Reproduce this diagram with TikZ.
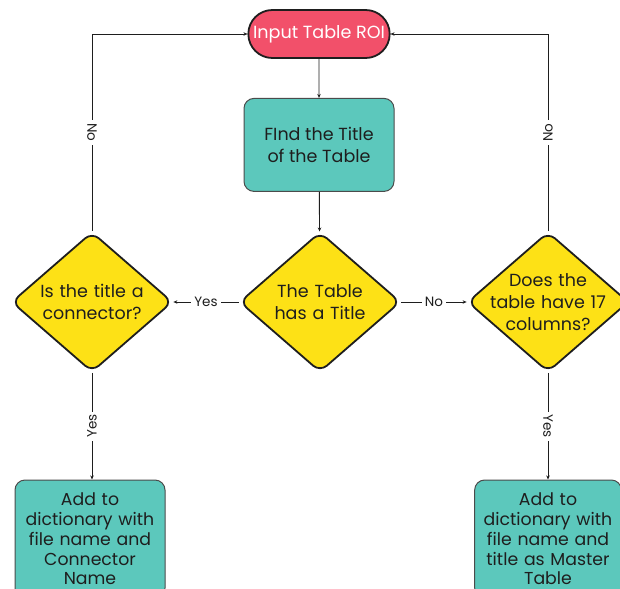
\documentclass[tikz,border=0pt]{standalone}
\usepackage{fontspec}
\setmainfont{Poppins}
\usetikzlibrary{arrows.meta,positioning,shapes.geometric,shapes.misc}
\definecolor{ink}{HTML}{1E1E1E}
\definecolor{roipink}{HTML}{F2506A}
\definecolor{tealbox}{HTML}{5CC8BC}
\definecolor{signal}{HTML}{FDE116}
\tikzset{
  startpill/.style={
    rounded rectangle,
    draw=ink,
    line width=1.8pt,
    fill=roipink,
    text=white,
    font=\fontsize{17.6}{21}\selectfont,
    minimum width=148pt,
    minimum height=48pt
  },
  stepbox/.style={
    draw=ink!80,
    rounded corners=10pt,
    line width=1pt,
    fill=tealbox,
    text=ink,
    align=center,
    font=\fontsize{17.5}{22}\selectfont
  },
  addbox/.style={
    stepbox,
    font=\fontsize{17.3}{19.8}\selectfont,
    text width=140pt,
    minimum height=118pt
  },
  decision/.style={
    diamond,
    aspect=1.143,
    draw=ink,
    line width=1.8pt,
    rounded corners=9pt,
    fill=signal,
    text=ink,
    text width=128pt,
    align=center,
    inner sep=-10pt,
    minimum width=161pt,
    minimum height=140pt,
    font=\fontsize{17.5}{22}\selectfont
  },
  flowarrow/.style={-{Stealth[length=4pt,width=3.5pt]}, line width=0.9pt, draw=ink},
  lbl/.style={fill=white, text=ink, inner sep=3pt, font=\fontsize{13.5}{15}\selectfont}
}

\begin{document}
\begin{tikzpicture}[x=1pt, y=-1pt]
  \path[use as bounding box, fill=white] (0,0) rectangle (620,588);

  \node[startpill] (input) at (319,34) {Input Table ROI};
  \node[stepbox, below=39pt of input, minimum width=150pt, minimum height=93pt] (find)
    {FInd the Title\\of the Table};

  \node[decision] (titleq) at (320,302) {The Table\\has a Title};
  \node[decision] (connq) at (92,302) {Is the title a\\connector?};
  \node[decision] (colq) at (548,302) {Does the\\table have 17\\columns?};

  \node[addbox, minimum width=150pt] (connbox) at (90,539)
    {Add to\\dictionary with\\file name and\\Connector\\Name};
  \node[addbox, minimum width=143pt] (masterbox) at (548,539)
    {Add to\\dictionary with\\file name and\\title as Master\\Table};

  \draw[flowarrow] (input) -- (find);
  \draw[flowarrow] (find) -- (titleq);
  \draw[flowarrow] (titleq) -- node[lbl] {Yes} (connq);
  \draw[flowarrow] (titleq) -- node[lbl] {No} (colq);

  \draw[flowarrow] (connq.north) |- node[lbl, rotate=-90, pos=0.25] {No} (input.west);
  \draw[flowarrow] (colq.north) |- node[lbl, rotate=90, pos=0.25] {No} (input.east);

  \draw[flowarrow] (connq.south) -- node[lbl, rotate=90] {Yes} (connq.south |- connbox.north);
  \draw[flowarrow] (colq.south) -- node[lbl, rotate=-90] {Yes} (colq.south |- masterbox.north);
\end{tikzpicture}
\end{document}
